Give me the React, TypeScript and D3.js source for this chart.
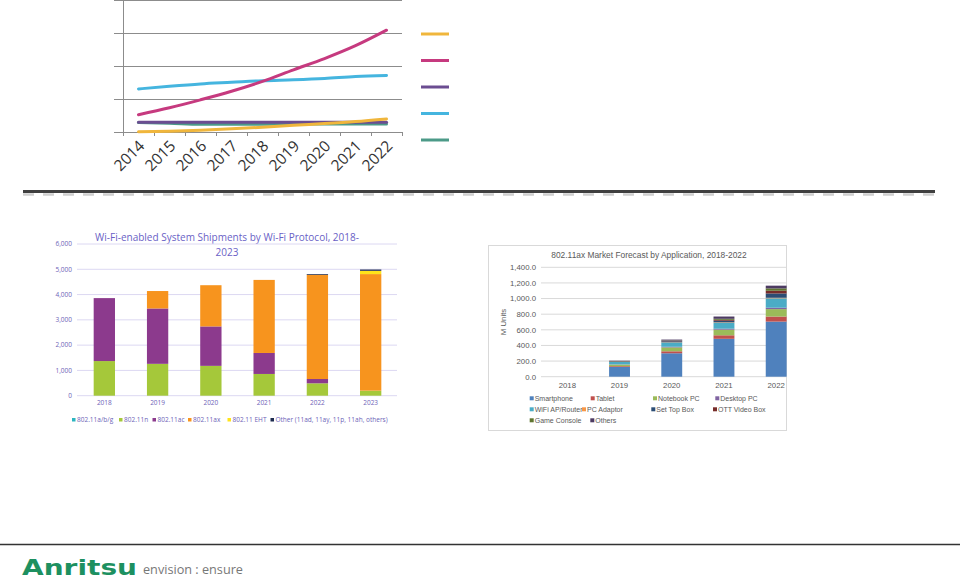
import React from "react";
import * as d3 from "d3";

// ---------- Top line chart data ----------
const lineYears = ["2014", "2015", "2016", "2017", "2018", "2019", "2020", "2021", "2022"];
const lineCyan = [1.32, 1.4, 1.47, 1.52, 1.57, 1.6, 1.64, 1.7, 1.73];
const lineMagenta = [0.54, 0.75, 0.99, 1.25, 1.55, 1.9, 2.24, 2.63, 3.1];
const linePurple = [0.31, 0.31, 0.31, 0.31, 0.31, 0.31, 0.31, 0.31, 0.31];
const lineTeal = [0.3, 0.28, 0.25, 0.25, 0.25, 0.26, 0.26, 0.26, 0.26];
const lineYellow = [0.02, 0.04, 0.07, 0.11, 0.16, 0.22, 0.27, 0.33, 0.41];
const lineTicks = [0, 1, 2, 3, 4];

// ---------- Wi-Fi protocol chart data ----------
const protoYears = ["2018", "2019", "2020", "2021", "2022", "2023"];
const protoNames = ["802.11a/b/g", "802.11n", "802.11ac", "802.11ax", "802.11 EHT", "Other (11ad, 11ay, 11p, 11ah, others)"];
const protoAbg = [0, 0, 0, 0, 0, 0];
const protoN = [1370, 1260, 1180, 860, 490, 200];
const protoAc = [2490, 2190, 1560, 830, 170, 0];
const protoAx = [0, 690, 1630, 2890, 4120, 4610];
const protoEht = [0, 0, 0, 0, 0, 130];
const protoOther = [0, 0, 0, 0, 30, 50];
const protoTicks = [0, 1000, 2000, 3000, 4000, 5000, 6000];

// ---------- 802.11ax application chart data ----------
const axYears = ["2018", "2019", "2020", "2021", "2022"];
const axNames = ["Smartphone", "Tablet", "Notebook PC", "Desktop PC", "WiFi AP/Router", "PC Adaptor", "Set Top Box", "OTT Video Box", "Game Console", "Others"];
const axSmartphone = [0, 125, 300, 485, 705];
const axTablet = [0, 10, 25, 45, 65];
const axNotebook = [0, 20, 50, 72, 95];
const axDesktop = [0, 3, 8, 12, 18];
const axWifi = [0, 30, 55, 77, 120];
const axPcAdaptor = [0, 2, 3, 5, 7];
const axStb = [0, 5, 12, 20, 55];
const axOtt = [0, 3, 5, 12, 35];
const axGame = [0, 2, 5, 13, 30];
const axOthers = [0, 5, 12, 29, 35];
const axTicks = [0, 200, 400, 600, 800, 1000, 1200, 1400];

const lineColors = ["#4c9a88", "#6b4d91", "#f0b63c", "#45b5df", "#c63a7f"];
const legendLineColors = ["#f0b63c", "#c63a7f", "#6b4d91", "#45b5df", "#4c9a88"];
const protoColors = ["#2cb5c0", "#a5c83a", "#8c3a8d", "#f7941e", "#ffe41a", "#1d2b4f"];
const axColors = ["#4f81bd", "#c0504d", "#9bbb59", "#8064a2", "#4bacc6", "#f79646", "#2c4d75", "#772c2a", "#5f7530", "#4d3b62"];

function LineChart() {
  const x = d3.scaleBand<string>().domain(lineYears).range([123, 402]);
  const y = d3.scaleLinear().domain([0, 4]).range([132.5, 0.5]);
  const series = [lineTeal, linePurple, lineYellow, lineCyan, lineMagenta];
  const gen = d3
    .line<number>()
    .x((_, i) => (x(lineYears[i]) as number) + x.bandwidth() / 2)
    .y((v) => y(v))
    .curve(d3.curveMonotoneX);
  const bounds = lineYears.map((yr) => x(yr) as number).concat([402]);
  return (
    <g>
      {lineTicks.map((t) => (
        <line key={t} x1={114} x2={402} y1={y(t)} y2={y(t)} stroke="#8c8c8c" strokeWidth={1} />
      ))}
      <line x1={123.5} x2={123.5} y1={0} y2={136} stroke="#8c8c8c" strokeWidth={1} />
      {bounds.map((b, i) => (
        <line key={i} x1={b + 0.5} x2={b + 0.5} y1={132} y2={136} stroke="#8c8c8c" strokeWidth={1} />
      ))}
      {series.map((s, i) => (
        <path key={i} d={gen(s) || ""} fill="none" stroke={lineColors[i]} strokeWidth={3} strokeLinecap="round" />
      ))}
      {lineYears.map((yr) => {
        const cx = (x(yr) as number) + x.bandwidth() / 2;
        return (
          <text
            key={yr}
            transform={`translate(${cx + 7},${147}) rotate(-45)`}
            textAnchor="end"
            fontFamily="Open Sans"
            fontSize={15.5}
            fill="#333"
          >
            {yr}
          </text>
        );
      })}
      {legendLineColors.map((c, i) => (
        <line key={c} x1={421} x2={449} y1={34 + i * 26.5} y2={34 + i * 26.5} stroke={c} strokeWidth={3} />
      ))}
    </g>
  );
}

function ProtoChart() {
  const x = d3.scaleBand<string>().domain(protoYears).range([77.7, 397.3]).paddingInner(0.6).paddingOuter(0.3);
  const y = d3.scaleLinear().domain([0, 6000]).range([395.7, 244]);
  const cols = [protoAbg, protoN, protoAc, protoAx, protoEht, protoOther];
  const rows = protoYears.map((yr, i) => {
    const r: any = { year: yr };
    cols.forEach((c, k) => (r["k" + k] = c[i]));
    return r;
  });
  const stack = d3.stack<any>().keys(cols.map((_, k) => "k" + k))(rows);
  const txt = "#6d64b8";
  const legendX = [72, 119, 152.5, 188, 227.5, 270.5];
  return (
    <g fontFamily="Open Sans">
      <text x={227} y={241} textAnchor="middle" fontSize={10} fill="#6a5fc6">
        Wi-Fi-enabled System Shipments by Wi-Fi Protocol, 2018-
      </text>
      <text x={227} y={255.5} textAnchor="middle" fontSize={10} fill="#6a5fc6">
        2023
      </text>
      {protoTicks.map((t) => (
        <g key={t}>
          <line x1={77} x2={397} y1={y(t)} y2={y(t)} stroke="#dcd8f2" strokeWidth={1} />
          <text x={72} y={y(t) + 2.3} textAnchor="end" fontSize={6.5} fill={txt}>
            {d3.format(",")(t)}
          </text>
        </g>
      ))}
      {stack.map((s, k) =>
        s.map((d, i) =>
          d[1] - d[0] > 0 ? (
            <rect
              key={k + "-" + i}
              x={x(protoYears[i])}
              width={x.bandwidth()}
              y={y(d[1])}
              height={y(d[0]) - y(d[1])}
              fill={protoColors[k]}
            />
          ) : null
        )
      )}
      {protoYears.map((yr) => (
        <text key={yr} x={(x(yr) as number) + x.bandwidth() / 2} y={405} textAnchor="middle" fontSize={6.5} fill={txt}>
          {yr}
        </text>
      ))}
      {protoNames.map((n, k) => (
        <g key={n}>
          <rect x={legendX[k]} y={418} width={3.5} height={3.5} fill={protoColors[k]} />
          <text x={legendX[k] + 5} y={422} fontSize={6.5} fill={txt}>
            {n}
          </text>
        </g>
      ))}
    </g>
  );
}

function AxChart() {
  const x = d3.scaleBand<string>().domain(axYears).range([541.2, 802.3]).paddingInner(0.6).paddingOuter(0.3);
  const y = d3.scaleLinear().domain([0, 1400]).range([376.7, 267.3]);
  const cols = [axSmartphone, axTablet, axNotebook, axDesktop, axWifi, axPcAdaptor, axStb, axOtt, axGame, axOthers];
  const rows = axYears.map((yr, i) => {
    const r: any = { year: yr };
    cols.forEach((c, k) => (r["k" + k] = c[i]));
    return r;
  });
  const stack = d3.stack<any>().keys(cols.map((_, k) => "k" + k))(rows);
  const txt = "#595959";
  const legendPos = [
    [531.7, 398.3],
    [592.7, 398.3],
    [655, 398.3],
    [717.3, 398.3],
    [531.7, 409.3],
    [584, 409.3],
    [653.3, 409.3],
    [715, 409.3],
    [531.7, 420.3],
    [592.3, 420.3],
  ];
  return (
    <g fontFamily="Liberation Sans">
      <defs>
        <clipPath id="axclip">
          <rect x={488} y={245} width={299} height={186} />
        </clipPath>
      </defs>
      <rect x={488.5} y={245.5} width={298} height={185} fill="#fff" stroke="#d9d9d9" strokeWidth={1} />
      <g clipPath="url(#axclip)">
        <text x={649} y={258} textAnchor="middle" fontSize={8.4} fill={txt}>
          802.11ax Market Forecast by Application, 2018-2022
        </text>
        {axTicks.map((t) => (
          <g key={t}>
            <line x1={541} x2={790} y1={y(t)} y2={y(t)} stroke="#d9d9d9" strokeWidth={1} />
            <text x={536} y={y(t) + 2.8} textAnchor="end" fontSize={7.8} fill={txt}>
              {d3.format(",.1f")(t)}
            </text>
          </g>
        ))}
        <text transform="translate(506,322) rotate(-90)" textAnchor="middle" fontSize={7.8} fill={txt}>
          M Units
        </text>
        {stack.map((s, k) =>
          s.map((d, i) =>
            d[1] - d[0] > 0 ? (
              <rect
                key={k + "-" + i}
                x={x(axYears[i])}
                width={x.bandwidth()}
                y={y(d[1])}
                height={y(d[0]) - y(d[1])}
                fill={axColors[k]}
              />
            ) : null
          )
        )}
        {axYears.map((yr) => (
          <text key={yr} x={(x(yr) as number) + x.bandwidth() / 2} y={388} textAnchor="middle" fontSize={7.8} fill={txt}>
            {yr}
          </text>
        ))}
        {axNames.map((n, k) => (
          <g key={n}>
            <rect x={legendPos[k][0] - 2} y={legendPos[k][1] - 2} width={4} height={4} fill={axColors[k]} />
            <text x={legendPos[k][0] + 3} y={legendPos[k][1] + 2.6} fontSize={7} fill={txt}>
              {n}
            </text>
          </g>
        ))}
      </g>
    </g>
  );
}

export default function App() {
  return (
    <svg
      width={960}
      height={585}
      viewBox="0 0 960 585"
      style={{ position: "absolute", left: 0, top: 0, background: "#fff" }}
    >
      <rect x={0} y={0} width={960} height={585} fill="#fff" />
      <LineChart />
      <line x1={23} x2={935} y1={194.5} y2={194.5} stroke="#cfcfcf" strokeWidth={2.5} strokeDasharray="11 9" />
      <line x1={23} x2={935} y1={191.5} y2={191.5} stroke="#3f3f3f" strokeWidth={3} />
      <ProtoChart />
      <AxChart />
      <line x1={0} x2={960} y1={544.5} y2={544.5} stroke="#333" strokeWidth={1.5} />
      <text
        x={22}
        y={575}
        fontFamily="DejaVu Sans"
        fontWeight="bold"
        fontSize={22}
        fill="#1d9060"
        textLength={115}
        lengthAdjust="spacingAndGlyphs"
      >
        Anritsu
      </text>
      <text x={143} y={574} fontFamily="Open Sans" fontSize={12.5} fill="#777" textLength={100} lengthAdjust="spacingAndGlyphs">
        envision : ensure
      </text>
    </svg>
  );
}
